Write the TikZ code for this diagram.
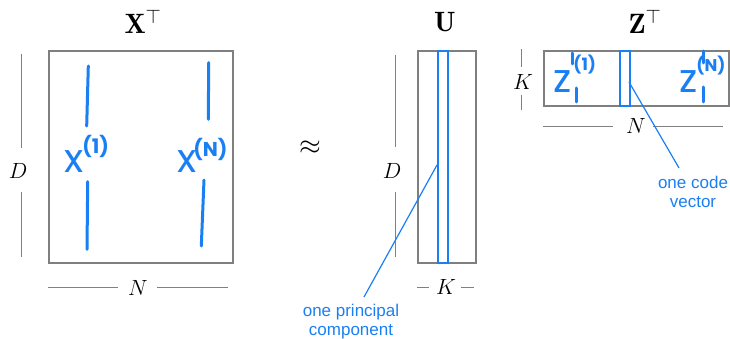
\RequirePackage{fix-cm}
\documentclass[tikz,border=0pt]{standalone}
\usepackage{amsmath}
\usepackage{fontspec}
\newfontfamily\handfont{Poppins}
\newfontfamily\labfont{Liberation Sans}
\definecolor{hblue}{HTML}{1A7FF2}
\definecolor{bgrey}{HTML}{7F7F7F}
\definecolor{dgrey}{HTML}{808080}
\newcommand\myhsup[3][20]{\raisebox{#2}{\fontsize{#1}{#1}\selectfont\bfseries #3}}
\begin{document}
\begin{tikzpicture}[x=1pt,y=-1pt,
 matbox/.style={draw=bgrey,line width=2pt,inner sep=0pt,anchor=north west},
 stripbox/.style={draw=hblue,line width=1.6pt,inner sep=0pt,anchor=north west},
 dimline/.style={draw=dgrey,line width=0.9pt},
 handline/.style={draw=hblue,line width=3pt,line cap=round},
 leader/.style={draw=hblue,line width=1.2pt},
 blab/.style={text=hblue,font=\labfont\fontsize{17}{19}\selectfont,align=center},
 dlab/.style={font=\fontsize{22}{24}\selectfont},
 tlab/.style={font=\fontsize{28}{30}\selectfont},
 hw/.style={text=hblue,inner sep=0pt,anchor=base west,font=\handfont\fontsize{40}{40}\selectfont}]
\useasboundingbox (0,0) rectangle (730,339);
% titles
\node[tlab] (XT) at (143,22) {$\mathbf{X}^{\top}$};
\node[tlab] (UT) at (445,22) {$\mathbf{U}$};
\node[tlab] (ZT) at (645,22) {$\mathbf{Z}^{\top}$};
\node[font=\fontsize{28}{30}\selectfont] (approx) at (310,148) {$\approx$};
% matrices
\node[matbox,minimum width=184pt,minimum height=212pt] (X) at (48,50) {};
\node[matbox,minimum width=58pt,minimum height=212pt] (U) at (417,50) {};
\node[stripbox,minimum width=10pt,minimum height=212pt] (Us) at (437,50) {};
\node[matbox,minimum width=185pt,minimum height=55pt] (Z) at (543,50) {};
\node[stripbox,minimum width=10pt,minimum height=55pt] (Zs) at (619,50) {};
% dimension labels
\node[dlab] (DX) at (18,171) {$D$};
\draw[dimline] (21,54) -- (21,148) (21,192) -- (21,257);
\node[dlab] (NX) at (138,288) {$N$};
\draw[dimline] (48,287) -- (118,287) (157,287) -- (228,287);
\node[dlab] (DU) at (392,171) {$D$};
\draw[dimline] (395,55) -- (395,147) (395,192) -- (395,257);
\node[dlab] (KU) at (446,287) {$K$};
\draw[dimline] (417,287) -- (429,287) (461,287) -- (474,287);
\node[dlab] (KZ) at (523,82) {$K$};
\draw[dimline] (521.5,49) -- (521.5,67) (521.5,95) -- (521.5,110);
\node[dlab] (NZ) at (636,126) {$N$};
\draw[dimline] (543,126) -- (613,126) (653,126) -- (723,126);
% handwritten columns in X
\draw[handline] (88.3,66) -- (86.7,126) (87.7,181.7) -- (87,249.3);
\draw[handline] (208.7,62.7) -- (208.3,119.3) (204,180) -- (201.3,246);
\node[hw] (x1) at (64,173) {x\kern-1pt\myhsup{19pt}{(1)}};
\node[hw] (xN) at (177,173) {x\kern-3pt\myhsup{17pt}{(N)}};
% handwritten codes in Z
\draw[handline] (572,53) -- (572,64) (576,88) -- (576,102);
\draw[handline] (703,51) -- (703,63) (703,87) -- (703,102);
\node[hw] (z1) at (553,93) {z\kern2pt\myhsup[17]{22pt}{(1)}};
\node[hw] (zN) at (679,93) {z\kern-1pt\myhsup[17]{21pt}{(N)}};
% leaders
\coordinate (pcs) at (437,165);
\coordinate (pce) at (364,297);
\node[blab] (pc) at (351,322) {one principal\\component};
\draw[leader] (pcs) -- (pce);
\coordinate (cvs) at (629,82);
\coordinate (cve) at (679,168);
\node[blab] (cv) at (693,192) {one code\\vector};
\draw[leader] (cvs) -- (cve);
\end{tikzpicture}
\end{document}
